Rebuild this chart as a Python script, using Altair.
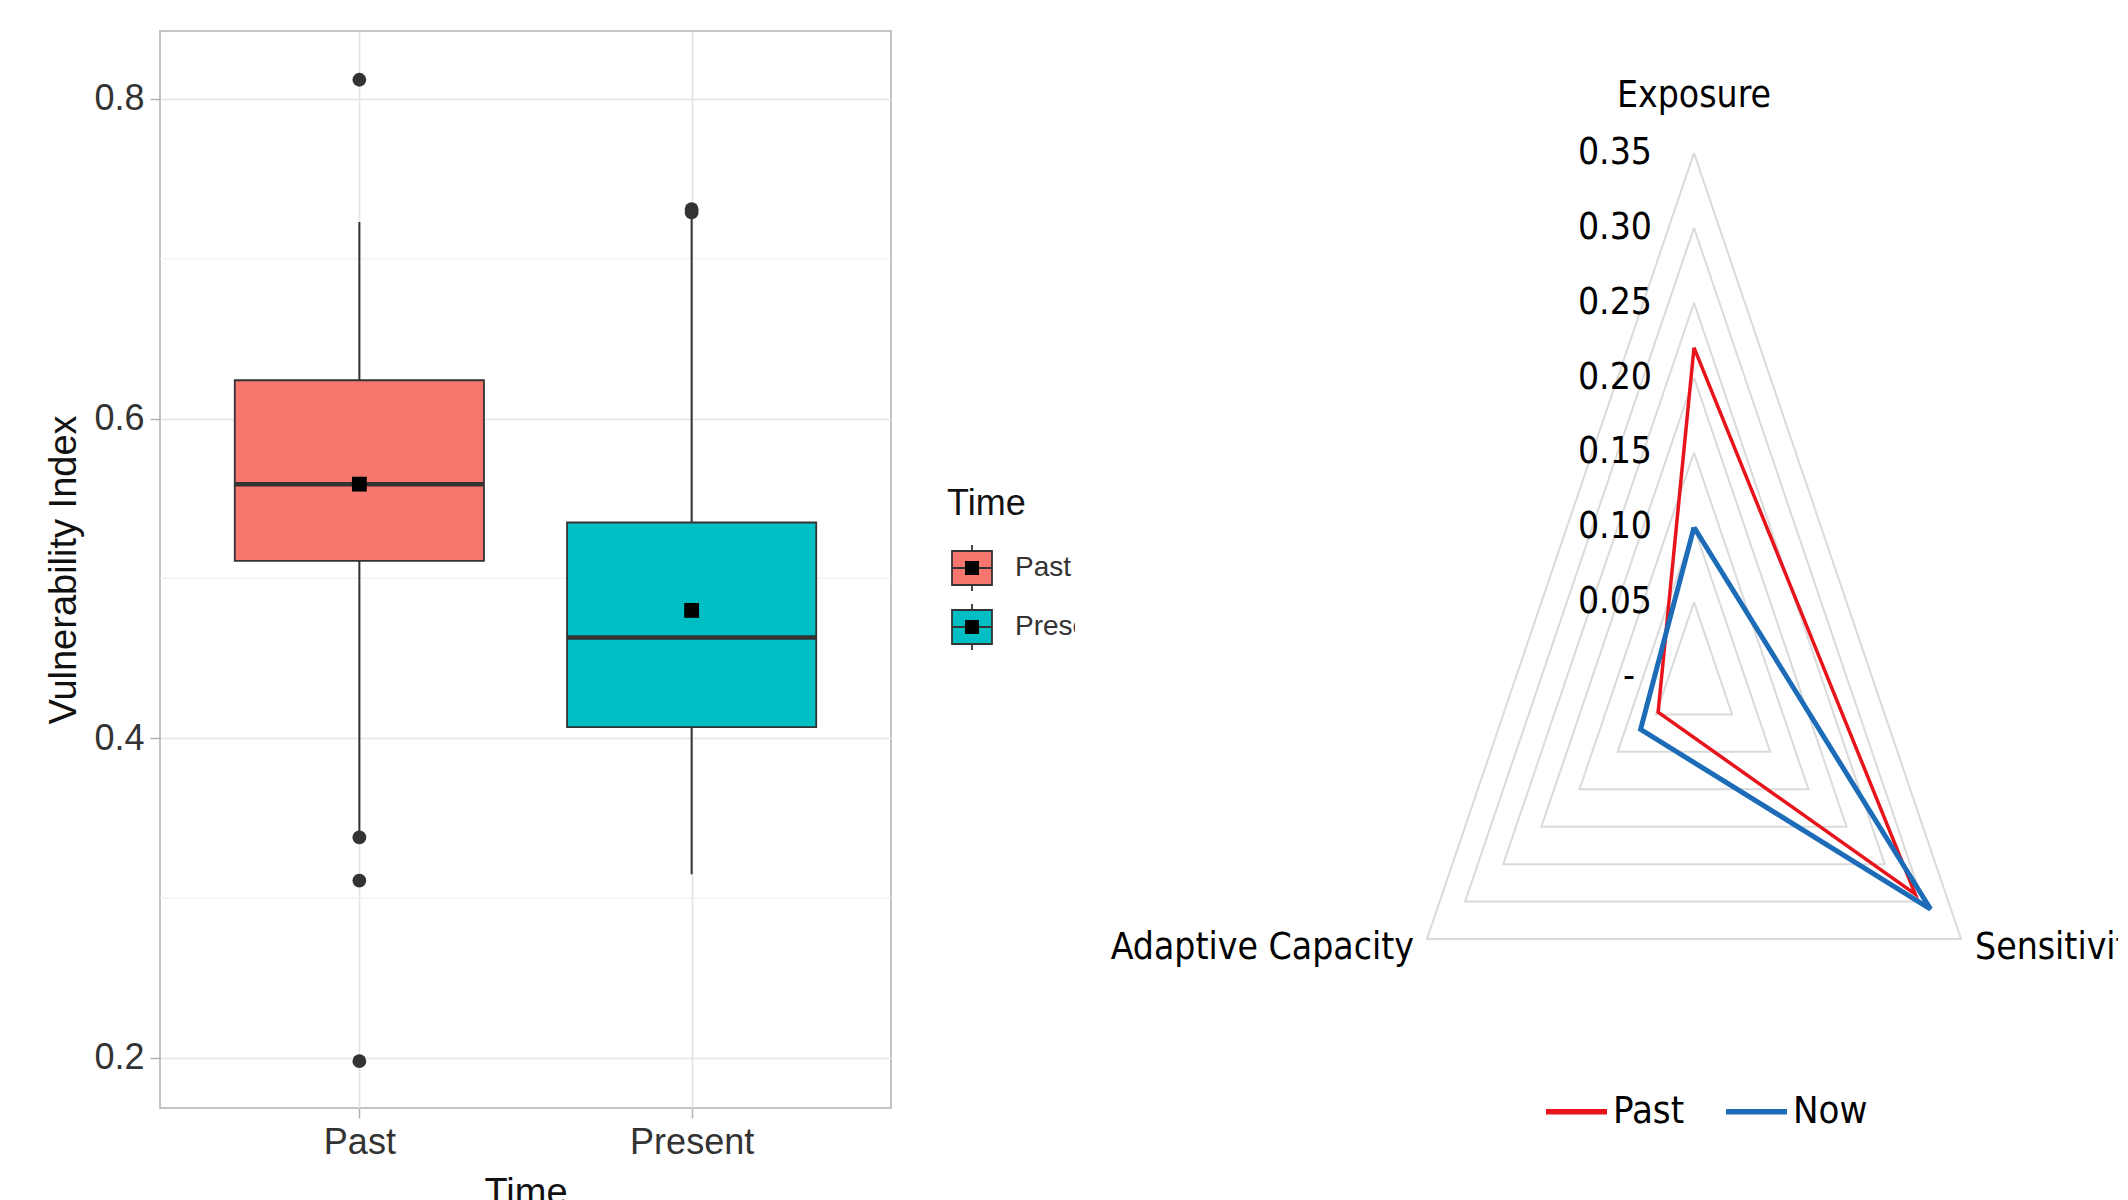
import json
import math
import altair as alt
import pandas as pd

# ---------------- Box plot data (left figure) ----------------
categories = ["Past", "Present"]
fill_colors = ["#F8766D", "#00BFC4"]
q1 = [0.511, 0.407]
median = [0.559, 0.463]
q3 = [0.624, 0.535]
whisker_low = [0.342, 0.315]
whisker_high = [0.723, 0.726]
means = [0.559, 0.480]
outliers_past = [0.812, 0.338, 0.311, 0.198]
outliers_present = [0.729, 0.731]
y_major = [0.2, 0.4, 0.6, 0.8]
y_minor = [0.3, 0.5, 0.7]
legend_title = "Time"

# ---------------- Radar data (right figure) ----------------
radar_axes = ["Exposure", "Sensitivity", "Adaptive Capacity"]
series_names = ["Past", "Now"]
series_colors = ["#E8141C", "#1C6CB8"]
past_values = [0.22, 0.29, 0.047]
now_values = [0.10, 0.31, 0.07]
radar_levels = [0.05, 0.10, 0.15, 0.20, 0.25, 0.30, 0.35]
level_labels = ["0.05", "0.10", "0.15", "0.20", "0.25", "0.30", "0.35"]
zero_label = "-"

SANS = "Liberation Sans, Arial, Helvetica, sans-serif"
NARROW = "DejaVu Sans Condensed, Liberation Sans Narrow, Liberation Sans, sans-serif"
NFS = 37
DARK = "#333333"

# ================= Box plot =================
pos = [i + 1 for i in range(len(categories))]
half = 0.375
box_df = pd.DataFrame({
    "Time": categories,
    "pos": pos,
    "left": [p - half for p in pos],
    "right": [p + half for p in pos],
    "q1": q1, "median": median, "q3": q3,
    "lo": whisker_low, "hi": whisker_high, "mean": means,
})
out_df = pd.DataFrame({
    "pos": [1] * len(outliers_past) + [2] * len(outliers_present),
    "value": outliers_past + outliers_present,
})
minor_df = pd.DataFrame({"value": y_minor})

x_scale = alt.Scale(domain=[0.4, 2.6], nice=False, zero=False)
y_scale = alt.Scale(domain=[0.1687, 0.8425], nice=False, zero=False)
x_axis = alt.Axis(
    values=pos, labelExpr=f"{json.dumps(categories)}[datum.value - 1]",
    grid=True, gridColor="#e4e4e4", gridWidth=1.6, domain=False,
    tickColor="#b3b3b3", tickSize=10, tickWidth=1.5,
    labelFont=SANS, labelFontSize=36, labelColor=DARK, labelPadding=7,
    labelAngle=0, title="Time", titleFont=SANS, titleFontSize=38,
    titleFontWeight="normal", titleColor="#111111", titlePadding=14,
)
y_axis = alt.Axis(
    values=y_major, format=".1f",
    grid=True, gridColor="#e4e4e4", gridWidth=1.6, domain=False,
    tickColor="#b3b3b3", tickSize=10, tickWidth=1.5,
    labelFont=SANS, labelFontSize=36, labelColor=DARK, labelPadding=6,
    title="Vulnerability Index", titleFont=SANS, titleFontSize=38,
    titleFontWeight="normal", titleColor="#111111", titlePadding=10,
)


def X(field):
    return alt.X(f"{field}:Q", scale=x_scale, axis=x_axis, title="Time")


def Y(field):
    return alt.Y(f"{field}:Q", scale=y_scale, axis=y_axis, title="Vulnerability Index")


fill_enc = alt.Fill("Time:N", scale=alt.Scale(domain=categories, range=fill_colors), legend=None)

minor = alt.Chart(minor_df).mark_rule(color="#efefef", strokeWidth=1.2).encode(y=Y("value"))
whiskers = alt.Chart(box_df).mark_rule(color=DARK, strokeWidth=2).encode(x=X("pos"), y=Y("lo"), y2="hi")
boxes = alt.Chart(box_df).mark_rect(stroke=DARK, strokeWidth=1.8).encode(
    x=X("left"), x2="right", y=Y("q1"), y2="q3", fill=fill_enc)
medians = alt.Chart(box_df).mark_rule(color=DARK, strokeWidth=4.5).encode(x=X("left"), x2="right", y=Y("median"))
outs = alt.Chart(out_df).mark_circle(size=190, color=DARK, opacity=1).encode(x=X("pos"), y=Y("value"))
mean_pts = alt.Chart(box_df).mark_square(size=220, color="black", opacity=1).encode(x=X("pos"), y=Y("mean"))

box_chart = alt.layer(minor, whiskers, boxes, medians, outs, mean_pts).properties(
    width=731, height=1077,
    view=alt.ViewBackground(stroke="#b3b3b3", strokeWidth=1.6),
)

# ================= Box plot legend =================
leg_df = pd.DataFrame({"Time": categories})
leg_y = alt.Y("Time:N", scale=alt.Scale(type="point", domain=categories, range=[537, 596], padding=0), axis=None)
key_path = "M-1,-0.85H1V0.85H-1Z M-1,0H1 M0,-0.85V-1.15 M0,0.85V1.15"
key_x = 51
key_box = alt.Chart(leg_df).mark_point(shape=key_path, size=1600, filled=True, opacity=1,
                                        stroke=DARK, strokeWidth=1.8).encode(
    x=alt.value(key_x), y=leg_y, fill=fill_enc)
key_sq = alt.Chart(leg_df).mark_square(size=196, color="black", opacity=1).encode(x=alt.value(key_x), y=leg_y)
key_txt = alt.Chart(leg_df).mark_text(align="left", baseline="middle", font=SANS, fontSize=28,
                                      color=DARK, clip=True).encode(
    x=alt.value(94), y=leg_y, text="Time:N")
leg_title = alt.Chart(pd.DataFrame({"t": [legend_title]})).mark_text(
    align="left", baseline="middle", font=SANS, fontSize=36, color="#111111").encode(
    x=alt.value(26), y=alt.value(473), text="t:N")
legend_chart = alt.layer(key_box, key_sq, key_txt, leg_title).properties(width=154, height=1077)

# ================= Radar chart =================
n_axes = len(radar_axes)
angles = [math.pi / 2 - 2 * math.pi * k / n_axes for k in range(n_axes)]


def ring(values, **extra):
    rows = []
    for k in range(n_axes + 1):
        i = k % n_axes
        r = dict(extra)
        r.update({"x": values[i] * math.cos(angles[i]), "y": values[i] * math.sin(angles[i]), "order": k})
        rows.append(r)
    return rows


grid_rows = []
for lv in radar_levels:
    grid_rows += ring([lv] * n_axes, level=lv)
grid_df = pd.DataFrame(grid_rows)
past_df = pd.DataFrame(ring(past_values, series=series_names[0]))
now_df = pd.DataFrame(ring(now_values, series=series_names[1]))
tick_df = pd.DataFrame({"x": [0.0] * len(radar_levels), "y": radar_levels, "label": level_labels})
zero_df = pd.DataFrame({"x": [0.0], "y": [0.0], "label": [zero_label]})
outer = max(radar_levels)
cat_df = pd.DataFrame({
    "axis": radar_axes,
    "x": [outer * math.cos(a) for a in angles],
    "y": [outer * math.sin(a) for a in angles],
})

RW, RH = 1015, 1140
cx_px, cy_px = 591, 646
kx, ky = 881.0, 1497.0
rx = alt.Scale(domain=[-cx_px / kx, (RW - cx_px) / kx], nice=False, zero=False)
ry = alt.Scale(domain=[-(RH - cy_px) / ky, cy_px / ky], nice=False, zero=False)
RX = alt.X("x:Q", scale=rx, axis=None)
RY = alt.Y("y:Q", scale=ry, axis=None)

grid = alt.Chart(grid_df).mark_line(color="#dadada", strokeWidth=2, strokeJoin="miter").encode(
    x=RX, y=RY, detail="level:N", order="order:Q")

# legend is placed relative to the first panel's origin (plot area at x=159, y=30)
color_enc = alt.Color(
    "series:N",
    scale=alt.Scale(domain=series_names, range=series_colors),
    legend=alt.Legend(
        orient="none", legendX=1383, legendY=1047, direction="horizontal", title=None,
        symbolType="stroke", symbolSize=3721, symbolStrokeWidth=5.5,
        labelFont=NARROW, labelFontSize=NFS + 1, labelColor="black", labelOffset=3,
        columnPadding=30, padding=0, labelLimit=400,
    ),
)
past_line = alt.Chart(past_df).mark_line(strokeWidth=3.5, strokeJoin="miter").encode(
    x=RX, y=RY, order="order:Q", color=color_enc)
now_line = alt.Chart(now_df).mark_line(strokeWidth=5, strokeJoin="miter").encode(
    x=RX, y=RY, order="order:Q", color=color_enc)

ticks_txt = alt.Chart(tick_df).mark_text(align="right", baseline="middle", dx=-42,
                                         font=NARROW, fontSize=NFS, color="black").encode(
    x=RX, y=RY, text="label:N")
zero_txt = alt.Chart(zero_df).mark_text(align="center", baseline="middle", dx=-65,
                                        font=NARROW, fontSize=NFS, color="black").encode(
    x=RX, y=RY, text="label:N")
cat_top = alt.Chart(cat_df).transform_filter(alt.datum.axis == radar_axes[0]).mark_text(
    align="center", baseline="middle", dy=-57, font=NARROW, fontSize=NFS, color="black", clip=True).encode(
    x=RX, y=RY, text="axis:N")
cat_right = alt.Chart(cat_df).transform_filter(alt.datum.axis == radar_axes[1]).mark_text(
    align="left", baseline="middle", dx=14, dy=9, font=NARROW, fontSize=NFS, color="black", clip=True).encode(
    x=RX, y=RY, text="axis:N")
cat_left = alt.Chart(cat_df).transform_filter(alt.datum.axis == radar_axes[2]).mark_text(
    align="right", baseline="middle", dx=-13, dy=9, font=NARROW, fontSize=NFS, color="black", clip=True).encode(
    x=RX, y=RY, text="axis:N")

radar_chart = alt.layer(grid, past_line, now_line, ticks_txt, zero_txt, cat_top, cat_right, cat_left).properties(
    width=RW, height=RH)

chart = alt.hconcat(box_chart, legend_chart, radar_chart, spacing=28).properties(
    padding={"left": 37, "top": 22, "right": 0, "bottom": 0},
    background="white",
).configure_view(stroke=None)

chart.save("out.html", embed_options={"renderer": "svg", "actions": False})
